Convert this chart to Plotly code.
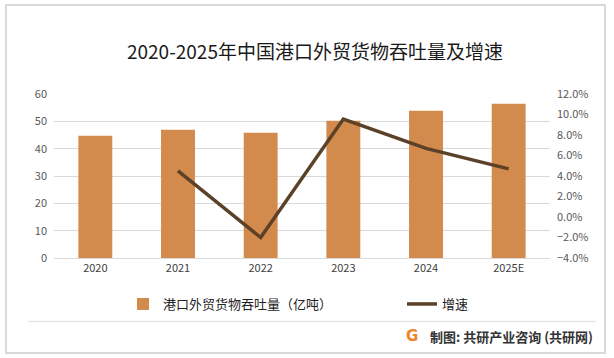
import plotly.graph_objects as go

years = ["2020", "2021", "2022", "2023", "2024", "2025E"]
throughput = [44.7, 46.9, 45.8, 50.2, 53.9, 56.4]
growth_years = ["2021", "2022", "2023", "2024", "2025E"]
growth = [0.045, -0.020, 0.0955, 0.067, 0.047]

FONT = "Noto Sans CJK SC, Microsoft YaHei, sans-serif"
W, H = 614, 358
L, R, T, B = 54, 64, 94, 100
PW, PH = W - L - R, H - T - B


def px(x, y):
    return (x - L) / PW, (H - B - y) / PH


fig = go.Figure()
fig.add_trace(go.Bar(x=years, y=throughput, name="港口外贸货物吞吐量（亿吨）",
                     marker=dict(color="#D38A4D", line=dict(width=0)), width=0.41, yaxis="y",
                     legend="legend"))
fig.add_trace(go.Scatter(x=growth_years, y=growth, name="增速", mode="lines",
                         line=dict(color="#5B4128", width=3.5), yaxis="y2", legend="legend2"))

wm = []
for (x, y) in [(110, 95), (300, 30), (100, 215), (520, 110), (300, 175), (430, 135), (40, 300), (300, 330), (560, 290), (580, 40), (60, 30)]:
    xx, yy = px(x, y)
    wm.append(dict(x=xx, y=yy, xref="paper", yref="paper", text="<b>共研产业咨询</b>", showarrow=False,
                   font=dict(size=22, color="rgba(0,0,0,0.022)", family=FONT), textangle=-12))
    xx, yy = px(x + 5, y + 22)
    wm.append(dict(x=xx, y=yy, xref="paper", yref="paper", text="w w w . g o n y n . c o m", showarrow=False,
                   font=dict(size=13, color="rgba(0,0,0,0.022)", family=FONT), textangle=-12))

lx, ly = px(123, 304)
l2x, l2y = px(402, 304)
gx, gy = px(412, 336)
tx, ty = px(428, 336)
rx0, ry0 = px(6, 353)
rx1, ry1 = px(605, 5)
hx0, hy = px(28, 321.5)
hx1, _ = px(596, 321.5)

fig.update_layout(
    width=W, height=H,
    margin=dict(l=L, r=R, t=T, b=B, autoexpand=False),
    paper_bgcolor="white", plot_bgcolor="white",
    font=dict(family=FONT, size=11, color="#595959"),
    title=dict(text="2020-2025年中国港口外贸货物吞吐量及增速", x=0.513, xanchor="center", y=(H - 52) / H, yanchor="middle",
               font=dict(size=19, color="#1a1a1a", family=FONT)),
    showlegend=True,
    legend=dict(orientation="h", x=lx, xanchor="left", y=ly, yanchor="middle",
                font=dict(size=13, color="#222222", family=FONT), bgcolor="rgba(0,0,0,0)",
                itemwidth=30),
    legend2=dict(orientation="h", x=l2x, xanchor="left", y=l2y, yanchor="middle",
                 font=dict(size=13, color="#222222", family=FONT), bgcolor="rgba(0,0,0,0)",
                 itemwidth=30),
    xaxis=dict(type="category", showgrid=False, showline=True, linecolor="#D9D9D9", linewidth=1,
               ticks="", tickfont=dict(size=11, color="#404040")),
    yaxis=dict(range=[0, 60], dtick=10, showgrid=True, gridcolor="#D9D9D9", gridwidth=1,
               zeroline=False, showline=False, ticks="", tickfont=dict(size=11, color="#595959"),
               ticklabelstandoff=6),
    yaxis2=dict(range=[-0.04, 0.12], dtick=0.02, tickformat=".1%", overlaying="y", side="right",
                showgrid=False, zeroline=False, showline=False, ticks="",
                tickfont=dict(size=11, color="#595959"), ticklabelstandoff=6),
    shapes=[
        dict(type="rect", xref="paper", yref="paper", x0=rx0, x1=rx1, y0=ry0, y1=ry1,
             line=dict(color="#D9D9D9", width=2), fillcolor="rgba(0,0,0,0)", layer="below"),
        dict(type="line", xref="paper", yref="paper", x0=hx0, x1=hx1, y0=hy, y1=hy,
             line=dict(color="#E6E6E6", width=1.5)),
    ],
    annotations=wm + [
        dict(x=gx, y=gy, xref="paper", yref="paper", text="<b>G</b>", showarrow=False,
             font=dict(size=15, color="#F0832A", family="DejaVu Sans"), xanchor="center", yanchor="middle"),
        dict(x=tx, y=ty, xref="paper", yref="paper",
             text="<b>制图: 共研产业咨询 (共研网)</b>", showarrow=False,
             font=dict(size=13, color="#333333", family=FONT), xanchor="left", yanchor="middle"),
    ],
)

fig.write_html("out.html", config={"displayModeBar": False},
               post_script="document.body.style.margin='0';document.body.style.overflow='hidden';")
